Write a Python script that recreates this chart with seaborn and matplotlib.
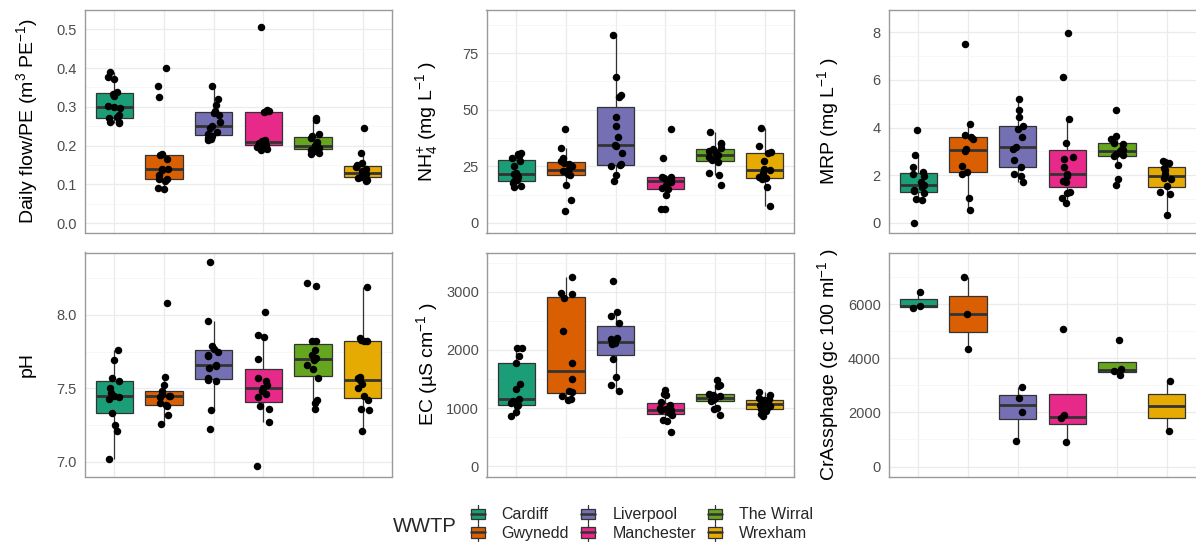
import numpy as np
import pandas as pd
import matplotlib
matplotlib.use("Agg")
import matplotlib.pyplot as plt
import seaborn as sns
from matplotlib.legend_handler import HandlerBase
from matplotlib.patches import Patch, Rectangle
from matplotlib.lines import Line2D
from matplotlib.ticker import FixedLocator, FormatStrFormatter

# ---------------- data ----------------
wwtp = ["Cardiff", "Gwynedd", "Liverpool", "Manchester", "The Wirral", "Wrexham"]
colors = ["#1B9E77", "#D95F02", "#7570B3", "#E7298A", "#66A61E", "#E6AB02"]

flow = [
    [0.391, 0.378, 0.372, 0.337, 0.333, 0.328, 0.303, 0.300, 0.296, 0.279, 0.275, 0.270, 0.262, 0.258, 0.260],
    [0.401, 0.355, 0.325, 0.179, 0.175, 0.165, 0.140, 0.140, 0.138, 0.125, 0.115, 0.113, 0.108, 0.092, 0.088],
    [0.355, 0.320, 0.305, 0.290, 0.285, 0.280, 0.260, 0.250, 0.245, 0.235, 0.230, 0.225, 0.220, 0.218, 0.215],
    [0.505, 0.293, 0.290, 0.288, 0.286, 0.215, 0.212, 0.208, 0.205, 0.202, 0.200, 0.196, 0.192, 0.188],
    [0.270, 0.265, 0.230, 0.225, 0.220, 0.210, 0.205, 0.200, 0.200, 0.198, 0.195, 0.190, 0.185, 0.180, 0.178],
    [0.245, 0.180, 0.155, 0.149, 0.145, 0.140, 0.135, 0.130, 0.127, 0.122, 0.119, 0.117, 0.115, 0.112, 0.110],
]
nh4 = [
    [31, 30.5, 29.5, 28.5, 27.5, 25, 22, 21.5, 21, 20.5, 19, 18.5, 17.5, 16.5, 16],
    [41.5, 33, 28.5, 27.5, 26.5, 26, 25, 23.5, 23, 22.5, 21.5, 21, 17, 10, 5.5],
    [83, 64.5, 56.5, 55.5, 47, 43, 38, 34.5, 34, 31, 26, 25.5, 25, 21, 18.5],
    [41.5, 28.5, 20.5, 20.5, 20, 19.5, 19, 18, 17, 15.5, 15, 12.5, 6, 6],
    [40, 35.5, 35, 33, 32.5, 32, 31, 30, 29.5, 29, 28, 27, 22, 21, 17],
    [42, 34, 31.5, 31, 27.5, 24, 23.5, 22, 20.5, 20, 19.5, 16, 7.5],
]
mrp = [
    [3.9, 2.85, 2.35, 2.15, 2.05, 1.95, 1.7, 1.6, 1.5, 1.4, 1.35, 1.25, 1.0, 0.95, 0.0],
    [7.5, 4.15, 3.7, 3.6, 3.5, 3.1, 3.0, 2.4, 2.15, 2.05, 1.05, 0.55],
    [5.2, 4.75, 4.45, 4.05, 3.95, 3.6, 3.2, 3.1, 2.65, 2.35, 2.05, 1.95, 1.7],
    [7.95, 6.1, 4.35, 3.35, 2.75, 2.7, 2.35, 2.05, 1.95, 1.75, 1.7, 1.3, 1.25, 1.05, 0.85],
    [4.75, 3.65, 3.5, 3.35, 3.3, 3.1, 3.05, 3.0, 2.9, 2.85, 2.8, 2.45, 1.85, 1.6],
    [2.6, 2.55, 2.5, 2.3, 2.2, 2.05, 1.9, 1.85, 1.55, 1.3, 1.2, 0.35],
]
ph = [
    [7.76, 7.69, 7.57, 7.55, 7.50, 7.47, 7.45, 7.44, 7.43, 7.33, 7.25, 7.21, 7.02],
    [8.08, 7.58, 7.52, 7.48, 7.46, 7.45, 7.45, 7.44, 7.40, 7.39, 7.38, 7.32, 7.26],
    [8.36, 7.96, 7.79, 7.77, 7.75, 7.73, 7.72, 7.66, 7.65, 7.64, 7.57, 7.56, 7.55, 7.35, 7.22],
    [8.02, 7.86, 7.85, 7.70, 7.57, 7.55, 7.52, 7.50, 7.48, 7.46, 7.44, 7.38, 7.36, 7.27, 6.97],
    [8.22, 8.20, 7.82, 7.82, 7.76, 7.73, 7.71, 7.69, 7.66, 7.63, 7.57, 7.42, 7.40, 7.36],
    [8.19, 7.84, 7.83, 7.82, 7.82, 7.58, 7.57, 7.56, 7.53, 7.50, 7.45, 7.42, 7.36, 7.35, 7.21],
]
ec = [
    [2030, 2030, 1900, 1780, 1420, 1320, 1150, 1120, 1080, 1050, 1030, 930, 870],
    [3250, 2980, 2960, 2900, 2330, 1780, 1500, 1300, 1280, 1200, 1150, 1130],
    [3190, 2650, 2590, 2470, 2200, 2180, 2150, 2130, 2120, 2100, 1850, 1530, 1390, 1300],
    [1310, 1240, 1230, 1100, 1060, 1000, 990, 970, 960, 940, 900, 880, 790, 780, 580],
    [1480, 1400, 1380, 1240, 1230, 1200, 1180, 1150, 1130, 1120, 1000, 980, 880],
    [1280, 1230, 1180, 1150, 1130, 1100, 1080, 1060, 1040, 1000, 980, 950, 900, 870],
]
crass = [
    [6450, 5940, 5870],
    [7000, 5650, 4340],
    [2930, 2550, 2030, 950],
    [5080, 1900, 1780, 890],
    [4680, 3600, 3520, 3390],
    [3150, 1320],
]

labels = [
    r"Daily flow/PE (m$^{3}$ PE$^{-1}$)",
    r"NH$_{4}^{+}$ (mg L$^{-1}$ )",
    r"MRP (mg L$^{-1}$ )",
    "pH",
    r"EC (µS cm$^{-1}$ )",
    r"CrAssphage (gc 100 ml$^{-1}$ )",
]
yticks = [
    [0.0, 0.1, 0.2, 0.3, 0.4, 0.5],
    [0, 25, 50, 75],
    [0, 2, 4, 6, 8],
    [7.0, 7.5, 8.0],
    [0, 1000, 2000, 3000],
    [0, 2000, 4000, 6000],
]
yfmt = ["%.1f", "%d", "%d", "%.1f", "%d", "%d"]
ylims = [(-0.024, 0.551), (-4.2, 94.3), (-0.4, 8.95), (6.90, 8.425), (-178, 3675), (-370, 7920)]

# ---------------- style ----------------
sns.set_theme(style="white")
plt.rcParams["font.family"] = ["Liberation Sans", "DejaVu Sans"]
plt.rcParams["mathtext.fontset"] = "custom"
plt.rcParams["mathtext.rm"] = "Liberation Sans"
plt.rcParams["mathtext.it"] = "Liberation Sans:italic"
plt.rcParams["mathtext.bf"] = "Liberation Sans:bold"
plt.rcParams["mathtext.default"] = "regular"

np.random.seed(11)

W, H = 1196, 545
fig = plt.figure(figsize=(W / 100, H / 100), dpi=100)

lefts = [84.5, 486.5, 888.5]
rows = [(9.5, 232.5), (252.5, 476.5)]
pw = 308
label_x = [27, 427, 828]

all_vals = [flow, nh4, mrp, ph, ec, crass]
edge = "#333333"

for i, vals in enumerate(all_vals):
    r, c = divmod(i, 3)
    top, bot = rows[r]
    ax = fig.add_axes([lefts[c] / W, 1 - bot / H, pw / W, (bot - top) / H])
    df = pd.DataFrame({
        "WWTP": np.repeat(wwtp, [len(v) for v in vals]),
        "value": np.concatenate([np.asarray(v, float) for v in vals]),
    })
    sns.boxplot(data=df, x="WWTP", y="value", hue="WWTP", order=wwtp, hue_order=wwtp,
                palette=colors, saturation=1, width=0.75, showfliers=False, linewidth=0.9,
                linecolor=edge, legend=False, ax=ax,
                medianprops=dict(linewidth=2.0, color=edge),
                capprops=dict(linewidth=0))
    sns.stripplot(data=df, x="WWTP", y="value", order=wwtp, color="black",
                  size=5.4, jitter=0.13, linewidth=0, ax=ax, zorder=3)

    ax.set_xlim(-0.6, 5.6)
    ax.set_ylim(*ylims[i])
    tk = yticks[i]
    ax.yaxis.set_major_locator(FixedLocator(tk))
    step = tk[1] - tk[0]
    minors = [t + step / 2 for t in [tk[0] - step] + tk]
    ax.yaxis.set_minor_locator(FixedLocator(minors))
    ax.yaxis.set_major_formatter(FormatStrFormatter(yfmt[i]))
    ax.set_axisbelow(True)
    ax.grid(True, which="major", axis="both", color="#EBEBEB", linewidth=0.9)
    ax.grid(True, which="minor", axis="y", color="#F4F4F4", linewidth=0.5)
    ax.tick_params(axis="x", length=0, labelbottom=False)
    ax.tick_params(axis="y", which="major", length=4, width=0.8, color="#4D4D4D",
                   labelsize=10.5, labelcolor="#4D4D4D", pad=1.5)
    ax.tick_params(axis="y", which="minor", length=0)
    ax.set_xlabel("")
    ax.set_ylabel(labels[i], fontsize=14, color="black", va="center")
    ax.yaxis.set_label_coords((label_x[c] - lefts[c]) / pw, 0.5)
    for s in ax.spines.values():
        s.set_visible(True)
        s.set_color("#9A9A9A")
        s.set_linewidth(1.0)


class BoxKey(HandlerBase):
    def create_artists(self, legend, orig_handle, xdescent, ydescent, width, height,
                       fontsize, trans):
        x0, y0 = -xdescent, -ydescent
        cx = x0 + width / 2
        bw = width * 0.8
        fc = orig_handle.get_facecolor()
        rect = Rectangle((cx - bw / 2, y0 + 0.12 * height), bw, 0.76 * height,
                         facecolor=fc, edgecolor=edge, linewidth=0.9, transform=trans)
        wl = Line2D([cx, cx], [y0 - 0.14 * height, y0 + 0.12 * height], color=edge,
                    linewidth=0.9, transform=trans)
        wu = Line2D([cx, cx], [y0 + 0.88 * height, y0 + 1.14 * height], color=edge,
                    linewidth=0.9, transform=trans)
        med = Line2D([cx - bw / 2, cx + bw / 2], [y0 + height / 2] * 2, color=edge,
                     linewidth=1.8, transform=trans)
        return [wl, wu, rect, med]


handles = [Patch(facecolor=col) for col in colors]
fig.legend(handles, wwtp, handler_map={Patch: BoxKey()}, ncol=3, loc="upper left",
           bbox_to_anchor=(469 / W, 1 - 507 / H), frameon=False, fontsize=11.5,
           handlelength=1.1, handleheight=0.95, handletextpad=0.95, columnspacing=0.65,
           labelspacing=0.2, borderpad=0, borderaxespad=0)
fig.text(393 / W, 1 - 526 / H, "WWTP", fontsize=14.5, va="center", ha="left")

fig.savefig("out.png", dpi=100)
